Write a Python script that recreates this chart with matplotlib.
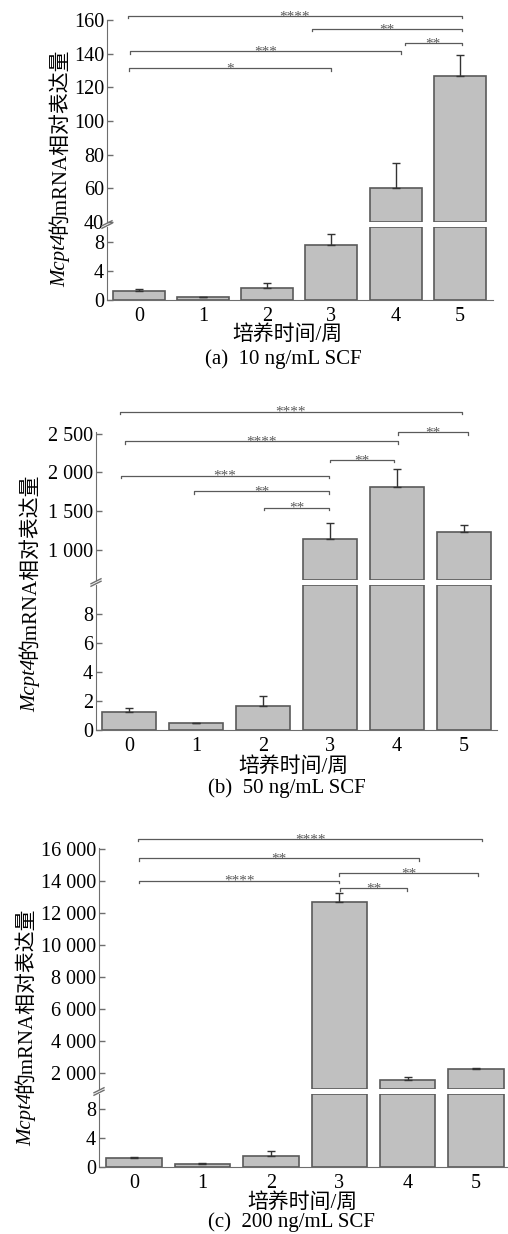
import matplotlib
matplotlib.use("Agg")
import matplotlib.pyplot as plt
from matplotlib.ticker import FuncFormatter

plt.rcParams['font.family'] = ['Liberation Serif', 'Noto Sans CJK SC']

# culture time (weeks)
weeks = [0, 1, 2, 3, 4, 5]
week_labels = ['0', '1', '2', '3', '4', '5']

# (a) 10 ng/mL SCF
mean_10 = [1.24, 0.37, 1.6, 7.6, 60.4, 127.0]
err_10 = [0.23, 0.08, 0.7, 1.6, 14.5, 12.2]
sig_10 = [(-0.18, 5.03, 162.4, '****'),
          (2.70, 5.03, 154.7, '**'),
          (4.14, 5.03, 146.4, '**'),
          (-0.14, 4.08, 141.4, '***'),
          (-0.16, 3.00, 131.2, '*')]

# (b) 50 ng/mL SCF
mean_50 = [1.26, 0.46, 1.66, 1143, 1809, 1230]
err_50 = [0.24, 0.04, 0.68, 204, 239, 86]
sig_50 = [(-0.14, 4.97, 2783, '****'),
          (4.02, 5.06, 2516, '**'),
          (-0.06, 4.02, 2399, '****'),
          (3.00, 3.96, 2160, '**'),
          (-0.13, 2.99, 1957, '***'),
          (0.97, 2.99, 1757, '**'),
          (2.01, 2.99, 1542, '**')]

# (c) 200 ng/mL SCF
mean_200 = [1.2, 0.41, 1.57, 12650, 1525, 2231]
err_200 = [0.23, 0.07, 0.69, 600, 187, 63]
sig_200 = [(0.06, 5.09, 16606, '****'),
           (0.08, 4.16, 15400, '**'),
           (3.00, 5.03, 14462, '**'),
           (0.08, 3.00, 14000, '****'),
           (3.01, 3.99, 13525, '**')]

W, H = 508, 1234
fig = plt.figure(figsize=(W / 100, H / 100), dpi=100)

BAR_FACE = '#c0c0c0'
BAR_EDGE = '#5a5a5a'
AXIS_COL = '#6e6e6e'
SIG_COL = '#5a5a5a'


def px_rect(x0, y0, x1, y1):
    return [x0 / W, 1 - y1 / H, (x1 - x0) / W, (y1 - y0) / H]


def thousands(v, _):
    return f"{int(round(v)):,}".replace(",", " ")


def put_ylabel(x_px, yc_px):
    r = fig.canvas.get_renderer()
    kw = dict(rotation=90, rotation_mode='anchor', ha='left', va='baseline', fontsize=15)
    t1 = fig.text(0, 0, 'Mcpt4', style='italic', **kw)
    t2 = fig.text(0, 0, '的mRNA相对表达量', **kw)
    h1 = t1.get_window_extent(r).height
    h2 = t2.get_window_extent(r).height
    y0 = yc_px + (h1 + h2) / 2
    t1.set_position((x_px / W, 1 - y0 / H))
    t2.set_position((x_px / W, 1 - (y0 - h1) / H))


def draw_panel(box, xlim, means, errs, sigs, low_top, low_ticks, up_lim, up_ticks,
               ylab, xlab_pos, cap_pos, caption):
    x0, x1, y_top, y_up_bot, y_lo_top, y_bot = box
    ax_up = fig.add_axes(px_rect(x0, y_top, x1, y_up_bot))
    ax_lo = fig.add_axes(px_rect(x0, y_lo_top, x1, y_bot))

    # lower part
    low_h = [min(m, low_top) for m in means]
    ax_lo.bar(weeks, low_h, width=0.81, color=BAR_FACE, edgecolor=BAR_EDGE, linewidth=1.2)
    for w, m, e in zip(weeks, means, errs):
        if m <= low_top:
            ax_lo.errorbar(w, m, yerr=[[0], [e]], fmt='none', ecolor='#333333',
                           elinewidth=1, capsize=3, capthick=1)
    ax_lo.set_ylim(0, low_top)
    ax_lo.set_yticks(low_ticks)
    ax_lo.set_xticks(weeks)
    ax_lo.set_xticklabels(week_labels)

    # upper part
    for w, m, e in zip(weeks, means, errs):
        if m > up_lim[0]:
            ax_up.bar(w, m - up_lim[0], bottom=up_lim[0], width=0.81, color=BAR_FACE,
                      edgecolor=BAR_EDGE, linewidth=1.2)
            ax_up.errorbar(w, m, yerr=[[0], [e]], fmt='none', ecolor='#333333',
                           elinewidth=1, capsize=3, capthick=1)
    ax_up.set_ylim(*up_lim)
    ax_up.set_yticks(up_ticks)
    ax_up.yaxis.set_major_formatter(FuncFormatter(thousands))
    ax_up.set_xticks([])

    for ax in (ax_up, ax_lo):
        ax.set_xlim(*xlim)
        ax.spines['top'].set_visible(False)
        ax.spines['right'].set_visible(False)
        ax.spines['left'].set_color(AXIS_COL)
        ax.spines['bottom'].set_color(AXIS_COL)
        ax.tick_params(axis='y', direction='in', length=4, width=1, color=AXIS_COL,
                       labelsize=14.5, pad=2)
        ax.tick_params(axis='x', length=0, labelsize=14.5, pad=5)
        ax.patch.set_alpha(0)
    ax_up.spines['bottom'].set_visible(False)

    # significance brackets
    up_px = y_up_bot - y_top
    tip = 2.5 * (up_lim[1] - up_lim[0]) / up_px
    for a, b, y, s in sigs:
        ax_up.plot([a, a, b, b], [y - tip, y, y, y - tip], color=SIG_COL, lw=0.9,
                   clip_on=False)
        ax_up.annotate(s, ((a + b) / 2, y), xytext=(0, -3), textcoords='offset points',
                       ha='center', va='baseline', fontsize=11, color=SIG_COL,
                       annotation_clip=False)

    # axis break marks
    dx = 5 / (x1 - x0)
    for ax, yb, hpx in ((ax_up, 0, y_up_bot - y_top), (ax_lo, 1, y_bot - y_lo_top)):
        dy = 2.5 / hpx
        off = -2.5 / hpx if yb == 0 else 2.5 / hpx
        ax.plot([-dx, dx], [yb - dy + off / 2, yb + dy + off / 2], transform=ax.transAxes,
                color=AXIS_COL, lw=1, clip_on=False)

    put_ylabel(*ylab)
    fig.text(xlab_pos[0] / W, 1 - xlab_pos[1] / H, '培养时间/周', ha='center', va='center',
             fontsize=15)
    fig.text(cap_pos[0] / W, 1 - cap_pos[1] / H, caption, ha='center', va='center',
             fontsize=15)


draw_panel((107, 493, 20, 222, 227, 300), (-0.5, 5.52), mean_10, err_10, sig_10,
           10.1, [0, 4, 8], (40, 160), [40, 60, 80, 100, 120, 140, 160],
           (65, 168), (287, 335), (283, 359), '(a)  10 ng/mL SCF')

draw_panel((96, 497, 432, 580, 585, 730), (-0.5, 5.5), mean_50, err_50, sig_50,
           10, [0, 2, 4, 6, 8], (610, 2520), [1000, 1500, 2000, 2500],
           (35, 593), (293, 767), (287, 788), '(b)  50 ng/mL SCF')

draw_panel((99, 507, 848, 1089, 1094, 1167), (-0.51, 5.45), mean_200, err_200, sig_200,
           10, [0, 4, 8], (980, 16040), [2000, 4000, 6000, 8000, 10000, 12000, 14000, 16000],
           (31, 1027), (302, 1203), (291, 1222), '(c)  200 ng/mL SCF')

fig.savefig('out.png', dpi=100)
